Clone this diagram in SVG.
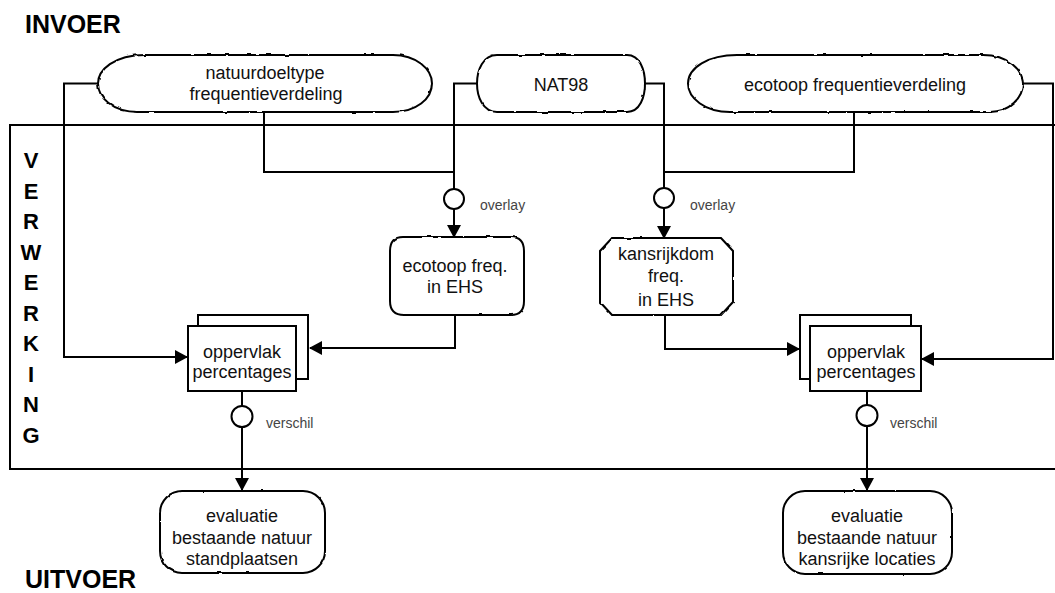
<svg xmlns="http://www.w3.org/2000/svg" width="1055" height="593" viewBox="0 0 1055 593">
  <style>
    .frame { fill: none; stroke: #000; stroke-width: 2; }
    .shape { fill: #fff; stroke: #000; stroke-width: 2; }
    .edge { fill: none; stroke: #000; stroke-width: 2; }
    .op { fill: #fff; stroke: #000; stroke-width: 2; }
    .txt { font-family: "Liberation Sans", Arial, sans-serif; font-size: 18px; fill: #111; text-anchor: middle; }
    .head { font-family: "Liberation Sans", Arial, sans-serif; font-size: 25px; font-weight: bold; fill: #000; }
    .vert { font-family: "Liberation Sans", Arial, sans-serif; font-size: 22px; font-weight: bold; fill: #000; text-anchor: middle; }
    .note { font-family: "Liberation Sans Narrow", "Liberation Sans", Arial, sans-serif; font-size: 14px; fill: #444; }
  </style>
  <defs>
    <marker id="arrow" markerUnits="userSpaceOnUse" markerWidth="14" markerHeight="14" refX="12" refY="7" orient="auto">
      <path d="M0,0 L13,7 L0,14 Z" fill="#000"/>
    </marker>
    <!-- slight hand-drawn wobble on the terminator outlines -->
    <filter id="wobble" x="-5%" y="-10%" width="110%" height="120%">
      <feTurbulence type="fractalNoise" baseFrequency="0.12" numOctaves="1" seed="3" result="n"/>
      <feDisplacementMap in="SourceGraphic" in2="n" scale="2.5" xChannelSelector="R" yChannelSelector="G"/>
    </filter>
  </defs>

  <rect width="1055" height="593" fill="#fff"/>

  <!-- section titles -->
  <text class="head" x="25" y="33">INVOER</text>
  <text class="head" x="25" y="588">UITVOER</text>

  <!-- processing frame (right side runs past the page edge) -->
  <rect class="frame" x="10" y="125" width="1060" height="344"/>
  <g id="verwerking">
    <text class="vert" x="31" y="168">V</text>
    <text class="vert" x="31" y="198.5">E</text>
    <text class="vert" x="31" y="229">R</text>
    <text class="vert" x="31" y="259.5">W</text>
    <text class="vert" x="31" y="290">E</text>
    <text class="vert" x="31" y="320.5">R</text>
    <text class="vert" x="31" y="351">K</text>
    <text class="vert" x="31" y="381.5">I</text>
    <text class="vert" x="31" y="412">N</text>
    <text class="vert" x="31" y="442.5">G</text>
  </g>

  <!-- connectors -->
  <g id="connectors">
    <path class="edge" d="M98,83.5 H64 V357 H187" marker-end="url(#arrow)"/>
    <path class="edge" d="M264,112 V172 H454"/>
    <path class="edge" d="M477,83.5 H454 V189"/>
    <path class="edge" d="M454,209 V237" marker-end="url(#arrow)"/>
    <path class="edge" d="M645,83.5 H664 V188"/>
    <path class="edge" d="M854,112 V172 H664"/>
    <path class="edge" d="M664,208 V238" marker-end="url(#arrow)"/>
    <path class="edge" d="M1023,83.5 H1053 V359 H922" marker-end="url(#arrow)"/>
    <path class="edge" d="M455,315 V348 H310" marker-end="url(#arrow)"/>
    <path class="edge" d="M665,315 V349 H799" marker-end="url(#arrow)"/>
    <path class="edge" d="M242,391 V406"/>
    <path class="edge" d="M242,427 V490" marker-end="url(#arrow)"/>
    <path class="edge" d="M867,391 V405"/>
    <path class="edge" d="M867,426 V490" marker-end="url(#arrow)"/>
  </g>

  <!-- operators -->
  <g id="overlay-left">
    <circle class="op" cx="454" cy="199" r="10"/>
    <text class="note" x="480" y="210">overlay</text>
  </g>
  <g id="overlay-right">
    <circle class="op" cx="664" cy="198" r="10"/>
    <text class="note" x="690" y="210">overlay</text>
  </g>
  <g id="verschil-left">
    <circle class="op" cx="242" cy="416.5" r="10.5"/>
    <text class="note" x="266" y="428">verschil</text>
  </g>
  <g id="verschil-right">
    <circle class="op" cx="867" cy="415.5" r="10.5"/>
    <text class="note" x="890" y="428">verschil</text>
  </g>

  <!-- inputs -->
  <g id="natuurdoeltype">
    <path class="shape" filter="url(#wobble)" d="M145,55 H393 C416,55 432,69 432,83.5 C432,99 416,112 393,112 H138 C112,112 98,97 98,83.5 C98,70 114,55 145,55 Z"/>
    <text class="txt" x="265" y="79">natuurdoeltype</text>
    <text class="txt" x="266" y="100">frequentieverdeling</text>
  </g>
  <g id="nat98">
    <path class="shape" filter="url(#wobble)" d="M497,55 H627 C640,55 645,70 645,83.5 C645,97 640,112 627,112 H497 C483,112 477,97 477,83.5 C477,70 483,55 497,55 Z"/>
    <text class="txt" x="561" y="91">NAT98</text>
  </g>
  <g id="ecotoop-frequentieverdeling">
    <path class="shape" filter="url(#wobble)" d="M737,55 H983 C1008,55 1023,70 1023,83.5 C1023,97 1010,112 990,112 H730 C705,112 688,98 688,83.5 C688,68 708,55 737,55 Z"/>
    <text class="txt" x="855" y="91">ecotoop frequentieverdeling</text>
  </g>

  <!-- intermediate results -->
  <g id="ecotoop-freq-ehs">
    <path class="shape" filter="url(#wobble)" d="M403,237 H511 Q524,237 524,251 V301 Q524,315 511,315 H404 Q390,315 390,301 V251 Q390,237 403,237 Z"/>
    <text class="txt" x="455" y="272">ecotoop freq.</text>
    <text class="txt" x="455" y="293">in EHS</text>
  </g>
  <g id="kansrijkdom-freq-ehs">
    <path class="shape" filter="url(#wobble)" d="M612,238 H721 L733,251 V302 L721,315 H612 L600,302 V251 Z"/>
    <text class="txt" x="666" y="260">kansrijkdom</text>
    <text class="txt" x="666" y="282">freq.</text>
    <text class="txt" x="666" y="306">in EHS</text>
  </g>

  <!-- area percentage stacks -->
  <g id="oppervlak-left">
    <rect class="shape" x="198" y="315" width="110" height="64"/>
    <rect class="shape" x="188" y="326" width="108" height="65"/>
    <text class="txt" x="242" y="358">oppervlak</text>
    <text class="txt" x="242" y="378">percentages</text>
  </g>
  <g id="oppervlak-right">
    <rect class="shape" x="800" y="315" width="111" height="64"/>
    <rect class="shape" x="810" y="326" width="111" height="65"/>
    <text class="txt" x="866" y="358">oppervlak</text>
    <text class="txt" x="866" y="378">percentages</text>
  </g>

  <!-- outputs -->
  <g id="evaluatie-standplaatsen">
    <rect class="shape" filter="url(#wobble)" x="160" y="491" width="165" height="82" rx="22" ry="22"/>
    <text class="txt" x="242" y="522">evaluatie</text>
    <text class="txt" x="242" y="544">bestaande natuur</text>
    <text class="txt" x="242" y="565">standplaatsen</text>
  </g>
  <g id="evaluatie-kansrijke-locaties">
    <rect class="shape" filter="url(#wobble)" x="783" y="491" width="169" height="83" rx="22" ry="22"/>
    <text class="txt" x="867" y="522">evaluatie</text>
    <text class="txt" x="867" y="544">bestaande natuur</text>
    <text class="txt" x="867" y="565">kansrijke locaties</text>
  </g>
</svg>
